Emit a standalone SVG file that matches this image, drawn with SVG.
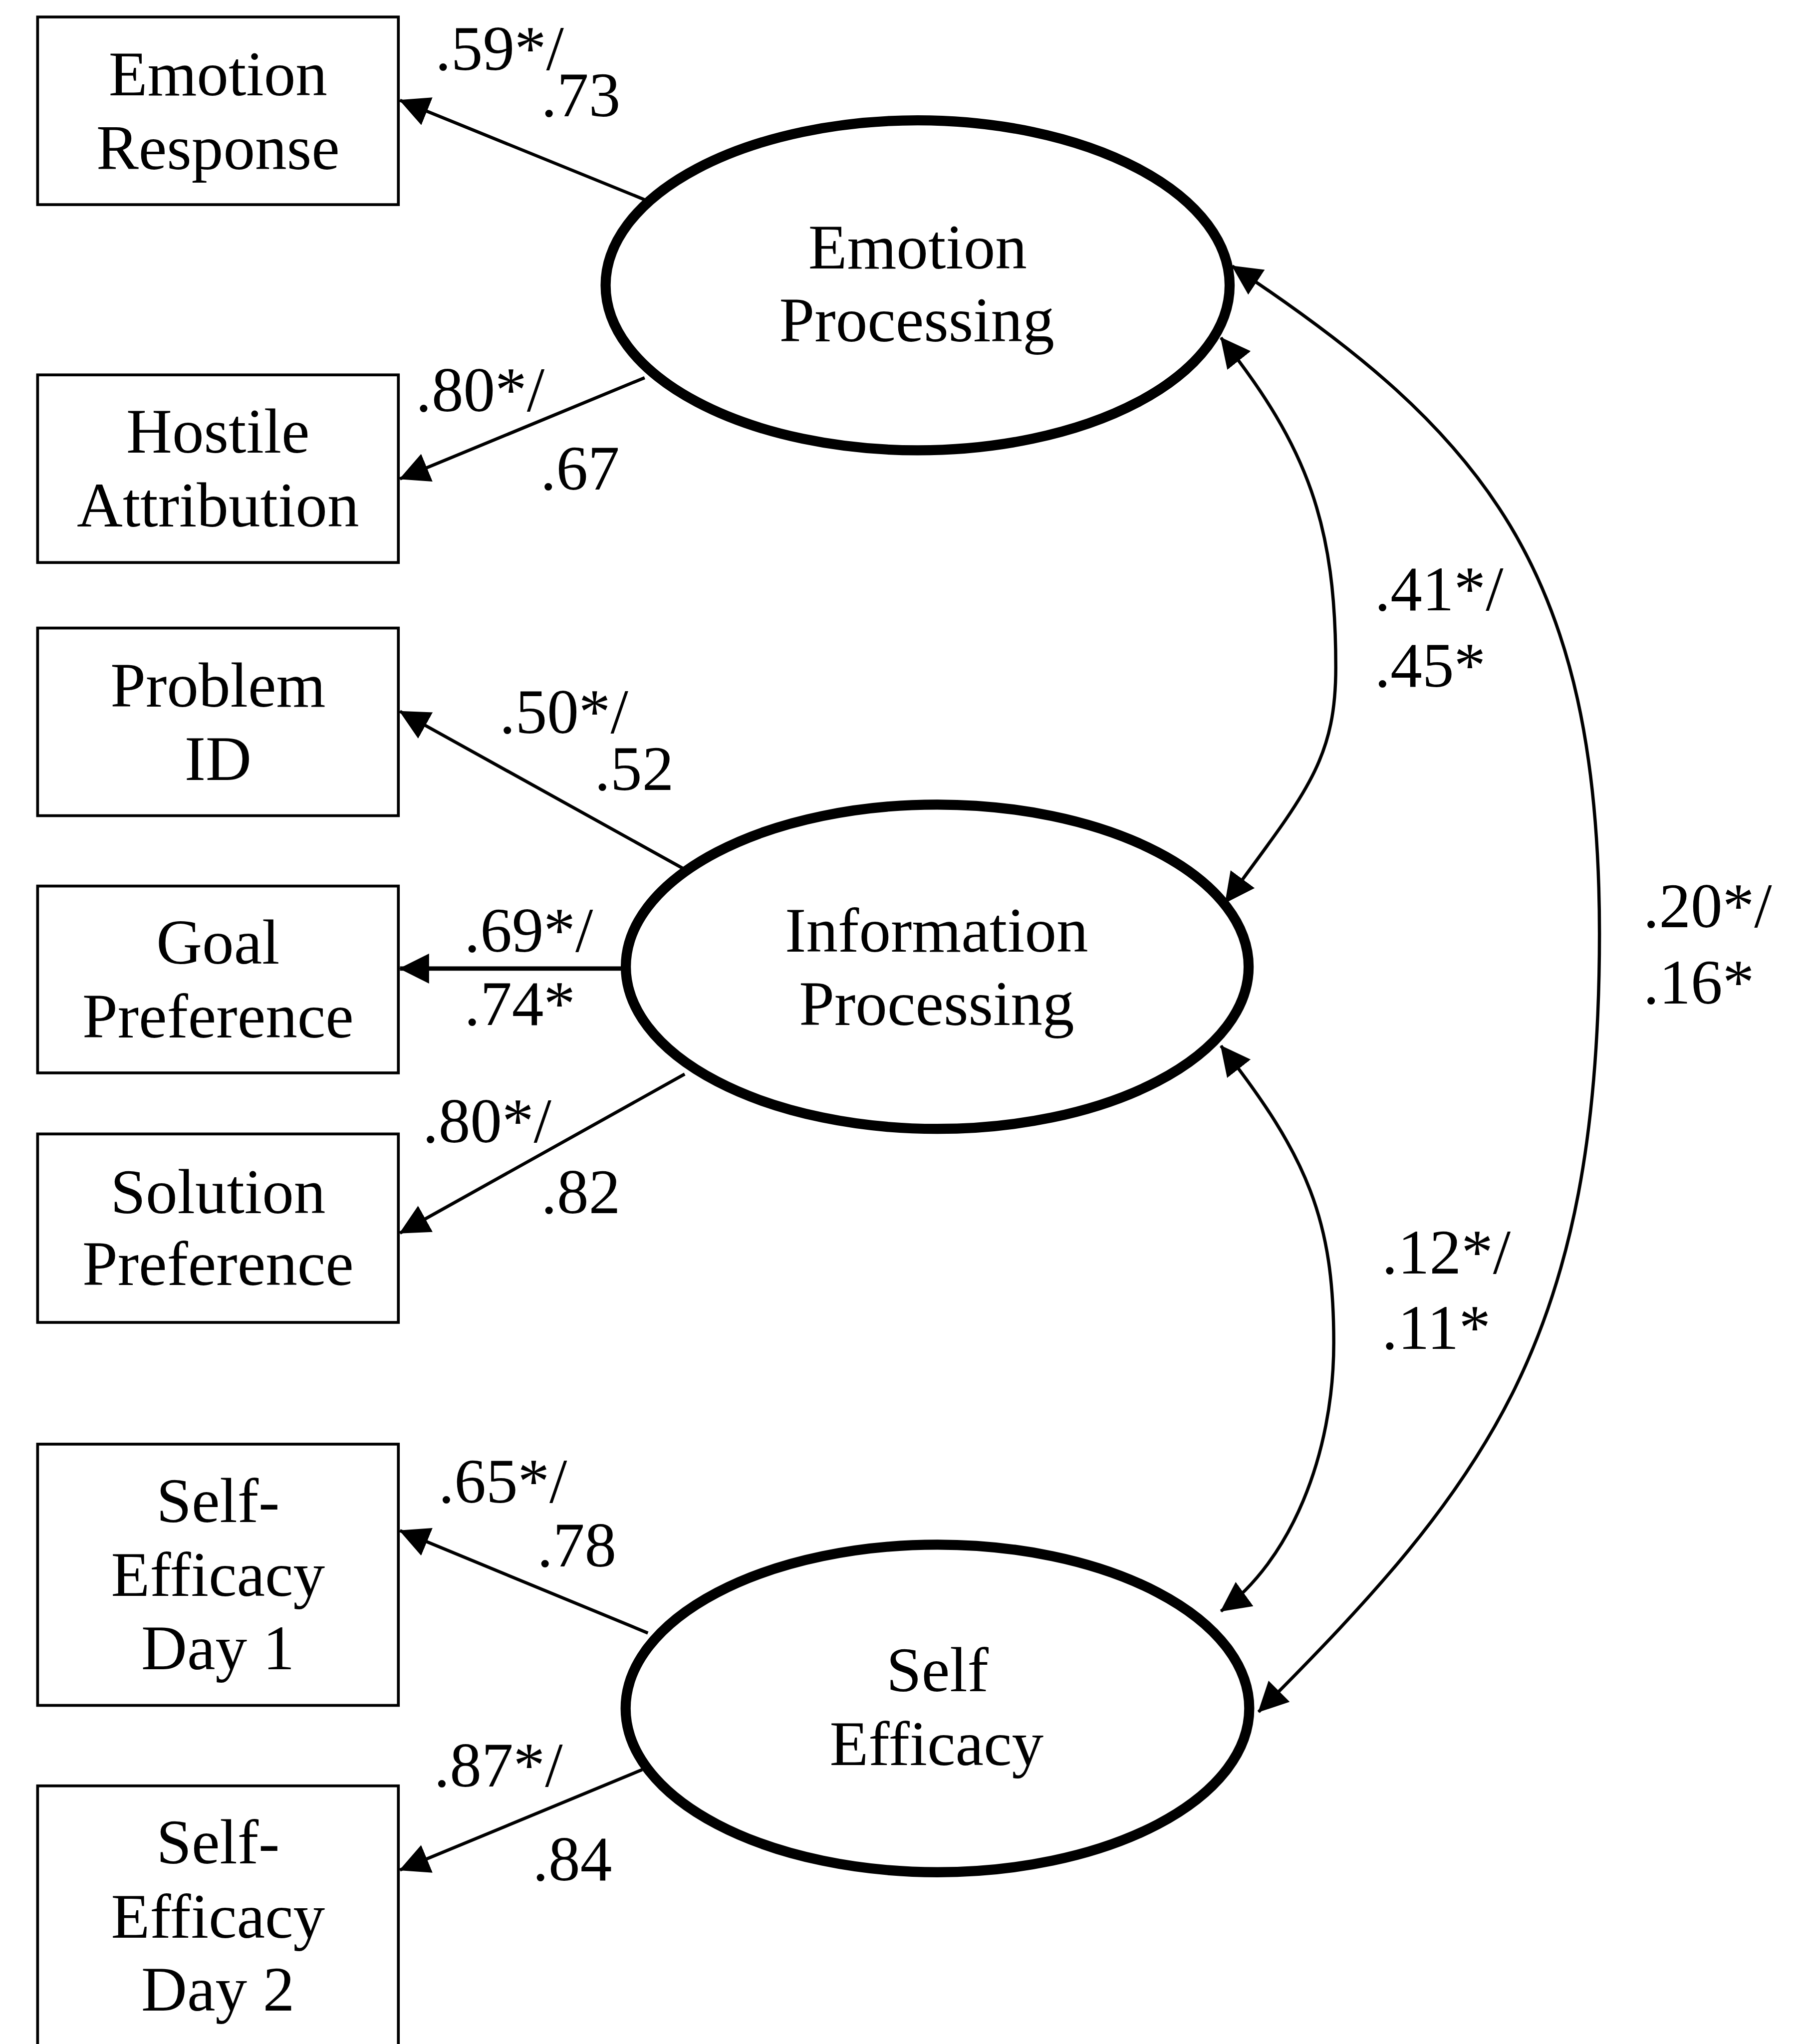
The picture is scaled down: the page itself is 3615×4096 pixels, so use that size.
<svg xmlns="http://www.w3.org/2000/svg" width="3615" height="4096" viewBox="0 0 3615 4096">
<style>
.box{fill:#fff;stroke:#000;stroke-width:7}
.lat{fill:#fff;stroke:#000;stroke-width:25}
.t{font-family:"Liberation Serif","Times New Roman",serif;font-size:157px;fill:#000}
.c{text-anchor:middle}
.ln{fill:none;stroke:#000;stroke-width:8}
.cv{fill:none;stroke:#000;stroke-width:8;marker-start:url(#ah);marker-end:url(#ah)}
.ar{marker-end:url(#ah)}
</style>
<defs>
<marker id="ah" markerUnits="userSpaceOnUse" markerWidth="74" markerHeight="74" viewBox="0 0 74 74" refX="72" refY="37" orient="auto-start-reverse">
<path d="M0,0 L74,37 L0,74 z" fill="#000"/>
</marker>
</defs>
<rect x="0" y="0" width="3615" height="4096" fill="#fff"/>
<g transform="scale(0.8104)">
<g id="emotion-response"><rect class="box" x="93" y="42" width="892" height="464"/><text class="t c" x="539" y="236">Emotion</text><text class="t c" x="539" y="418">Response</text></g>
<g id="hostile-attribution"><rect class="box" x="93" y="927" width="892" height="464"/><text class="t c" x="539" y="1119">Hostile</text><text class="t c" x="539" y="1302">Attribution</text></g>
<g id="problem-id"><rect class="box" x="93" y="1553" width="892" height="464"/><text class="t c" x="539" y="1747">Problem</text><text class="t c" x="539" y="1929">ID</text></g>
<g id="goal-preference"><rect class="box" x="93" y="2191" width="892" height="462"/><text class="t c" x="539" y="2383">Goal</text><text class="t c" x="539" y="2565">Preference</text></g>
<g id="solution-preference"><rect class="box" x="93" y="2804" width="892" height="466"/><text class="t c" x="539" y="3000">Solution</text><text class="t c" x="539" y="3177">Preference</text></g>
<g id="self-efficacy-day1"><rect class="box" x="93" y="3571" width="892" height="646"/><text class="t c" x="539" y="3764">Self-</text><text class="t c" x="539" y="3946">Efficacy</text><text class="t c" x="539" y="4128">Day 1</text></g>
<g id="self-efficacy-day2"><rect class="box" x="93" y="4416" width="892" height="760"/><text class="t c" x="539" y="4608">Self-</text><text class="t c" x="539" y="4792">Efficacy</text><text class="t c" x="539" y="4972">Day 2</text></g>
<g id="emotion-processing"><ellipse class="lat" cx="2269" cy="705.5" rx="771.5" ry="408"/><text class="t c" x="2269" y="664">Emotion</text><text class="t c" x="2267" y="844">Processing</text></g>
<g id="information-processing"><ellipse class="lat" cx="2317.5" cy="2390.5" rx="770" ry="401"/><text class="t c" x="2316" y="2353">Information</text><text class="t c" x="2316" y="2534">Processing</text></g>
<g id="self-efficacy"><ellipse class="lat" cx="2318" cy="4224.5" rx="771" ry="405"/><text class="t c" x="2318" y="4182">Self</text><text class="t c" x="2316" y="4365">Efficacy</text></g>
<g id="connectors">
<path class="ln ar" d="M1597,495 L989,248"/>
<path class="ln ar" d="M1594,934 L989,1184"/>
<path class="ln ar" d="M1688,2147 L989,1759"/>
<path class="ln ar" style="stroke-width:11" d="M1536,2395 L989,2395"/>
<path class="ln ar" d="M1693,2656 L989,3049"/>
<path class="ln ar" d="M1602,4038 L989,3785"/>
<path class="ln ar" d="M1588,4376 L989,4624"/>
<path class="cv" d="M3019,835 C3236,1108 3303,1300 3303,1650 C3303,1880 3230,1960 3030,2232"/>
<path class="cv" d="M3019,2586 C3236,2862 3298,3020 3298,3320 C3298,3600 3190,3860 3019,3984"/>
<path class="cv" d="M3047,658 C3669,1070 3955,1408 3955,2308 C3955,3308 3678,3667 3112,4233"/>
</g>
<g id="labels">
<text class="t" x="1076" y="173">.59*/</text>
<text class="t" x="1338" y="287">.73</text>
<text class="t" x="1028" y="1017">.80*/</text>
<text class="t" x="1336" y="1211">.67</text>
<text class="t" x="1235" y="1813">.50*/</text>
<text class="t" x="1470" y="1953">.52</text>
<text class="t" x="1148" y="2353">.69*/</text>
<text class="t" x="1148" y="2535">.74*</text>
<text class="t" x="1045" y="2825">.80*/</text>
<text class="t" x="1338" y="3000">.82</text>
<text class="t" x="1084" y="3716">.65*/</text>
<text class="t" x="1328" y="3873">.78</text>
<text class="t" x="1073" y="4418">.87*/</text>
<text class="t" x="1317" y="4650">.84</text>
<text class="t" x="3399" y="1509">.41*/</text>
<text class="t" x="3399" y="1698">.45*</text>
<text class="t" x="3417" y="3149">.12*/</text>
<text class="t" x="3417" y="3336">.11*</text>
<text class="t" x="4063" y="2293">.20*/</text>
<text class="t" x="4063" y="2481">.16*</text>
</g>
</g>
</svg>
